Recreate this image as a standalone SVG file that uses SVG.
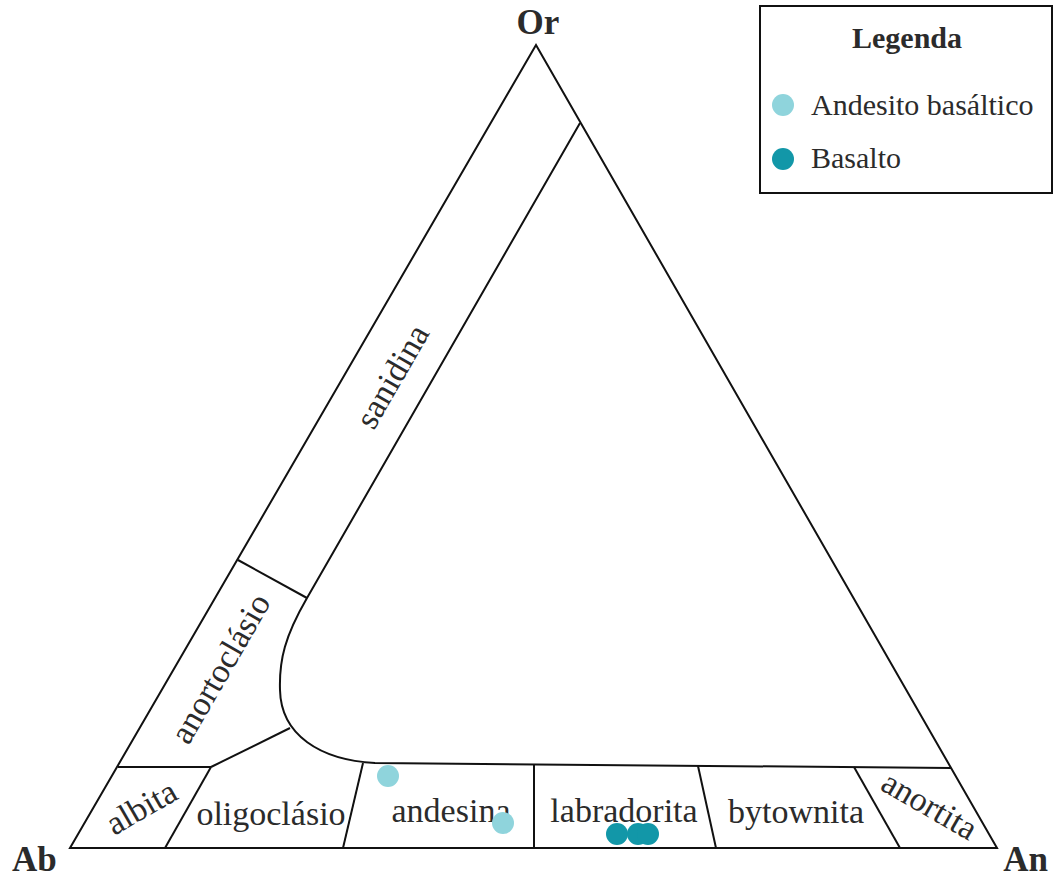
<svg xmlns="http://www.w3.org/2000/svg" width="1054" height="879" viewBox="0 0 1054 879">
<style>
.ln{fill:none;stroke:#111;stroke-width:2;stroke-linejoin:miter}
.lb{font-family:"Liberation Serif","Times New Roman",serif;font-size:34px;fill:#2b2b2b;text-anchor:middle}
.vx{font-family:"Liberation Serif","Times New Roman",serif;font-size:35px;font-weight:bold;fill:#2b2b2b}
.lg{font-family:"Liberation Serif","Times New Roman",serif;font-size:30px;fill:#2b2b2b}
.a{fill:#8fd4dc}
.b{fill:#1297a8}
</style>
<rect width="1054" height="879" fill="#fff"/>
<g id="connectors">
<polygon class="ln" points="536,45 70,848 997,848"/>
<path class="ln" d="M580,123 L307,598 C285,636 279,660 280,690 C281,735 320,760 375,763 L951,768"/>
<line class="ln" x1="238" y1="560" x2="307" y2="598"/>
<line class="ln" x1="290" y1="728" x2="211" y2="767"/>
<line class="ln" x1="118" y1="767" x2="211" y2="767"/>
<line class="ln" x1="211" y1="767" x2="165" y2="848"/>
<line class="ln" x1="363" y1="763" x2="343" y2="848"/>
<line class="ln" x1="534" y1="765" x2="534" y2="848"/>
<line class="ln" x1="698" y1="766" x2="716" y2="848"/>
<line class="ln" x1="854" y1="767" x2="900" y2="848"/>
</g>
<g id="vertex-or"><text class="vx" x="538" y="34" text-anchor="middle">Or</text></g>
<g id="vertex-ab"><text class="vx" x="12" y="871">Ab</text></g>
<g id="vertex-an"><text class="vx" x="1048" y="871" text-anchor="end">An</text></g>
<g id="field-sanidina"><text class="lb" transform="translate(402,382) rotate(-60)">sanidina</text></g>
<g id="field-anortoclasio"><text class="lb" transform="translate(230,674) rotate(-60)">anortoclásio</text></g>
<g id="field-albita"><text class="lb" transform="translate(147,817) rotate(-30)">albita</text></g>
<g id="field-oligoclasio"><text class="lb" x="271" y="825">oligoclásio</text></g>
<g id="field-andesina"><text class="lb" x="451" y="822">andesina</text></g>
<g id="field-labradorita"><text class="lb" x="624" y="822">labradorita</text></g>
<g id="field-bytownita"><text class="lb" x="796" y="823">bytownita</text></g>
<g id="field-anortita"><text class="lb" transform="translate(924,815) rotate(30)">anortita</text></g>
<g id="samples">
<circle class="a" cx="388" cy="776" r="11"/>
<circle class="a" cx="503" cy="823" r="11"/>
<circle class="b" cx="617" cy="834" r="11"/>
<circle class="b" cx="638" cy="834" r="11"/>
<circle class="b" cx="648" cy="834" r="11"/>
</g>
<g id="legend">
<rect x="760" y="6" width="292" height="187" fill="#fff" stroke="#111" stroke-width="2"/>
<text class="lg" x="907" y="48" font-weight="bold" text-anchor="middle">Legenda</text>
<circle class="a" cx="783" cy="105" r="11"/>
<text class="lg" x="811" y="115">Andesito basáltico</text>
<circle class="b" cx="783" cy="159" r="11"/>
<text class="lg" x="811" y="168">Basalto</text>
</g>
</svg>
